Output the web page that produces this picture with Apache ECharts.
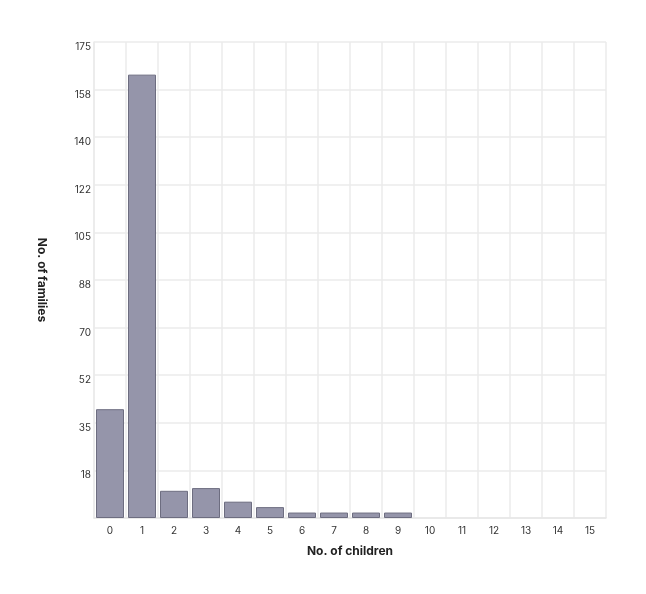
<!DOCTYPE html>
<html>
<head>
<meta charset="utf-8">
<script src="https://cdn.jsdelivr.net/npm/echarts@6/dist/echarts.min.js"></script>
<style>
  html, body { margin: 0; padding: 0; background: #fff; }
  #main { width: 646px; height: 594px; }
</style>
</head>
<body>
<div id="main"></div>
<script>
// data
var children = ['0', '1', '2', '3', '4', '5', '6', '7', '8', '9', '10', '11', '12', '13', '14', '15'];
var families = [40, 163, 10, 11, 6, 4, 2, 2, 2, 2, 0, 0, 0, 0, 0, 0];
var yTickLabels = ['', '18', '35', '52', '70', '88', '105', '122', '140', '158', '175'];

var myChart = echarts.init(document.getElementById('main'));
var option = {
    backgroundColor: '#fff',
    textStyle: { fontFamily: 'Inter' },
    grid: { left: 94, right: 40, top: 42, bottom: 76, containLabel: false },
    xAxis: {
        type: 'category',
        data: children,
        name: 'No. of children',
        nameLocation: 'middle',
        nameGap: 27,
        nameTextStyle: { fontSize: 12, fontWeight: 'bold', color: '#222' },
        axisLine: { lineStyle: { color: '#e6e6e6', width: 1.5 } },
        axisTick: { show: false },
        axisLabel: { color: '#333', fontSize: 10, margin: 8 },
        splitLine: { show: true, interval: 0, lineStyle: { color: '#ebebeb', width: 1.5 } }
    },
    yAxis: {
        type: 'value',
        min: 0,
        max: 175,
        interval: 17.5,
        name: 'No. of families',
        nameLocation: 'middle',
        nameGap: 46,
        nameRotate: -90,
        nameTextStyle: { fontSize: 12, fontWeight: 'bold', color: '#222' },
        axisLine: { show: true, lineStyle: { color: '#ebebeb', width: 1.5 } },
        axisTick: { show: false },
        axisLabel: {
            color: '#333',
            fontSize: 10,
            margin: 3,
            verticalAlign: 'top',
            formatter: function (v) {
                return yTickLabels[Math.round(v / 17.5)];
            }
        },
        splitLine: { lineStyle: { color: '#ebebeb', width: 1.5 } }
    },
    series: [
        {
            type: 'bar',
            // empty categories draw no bar at all
            data: families.map(function (v) { return v === 0 ? null : v; }),
            barCategoryGap: '12.5%',
            itemStyle: { color: '#9595aa', borderColor: '#6d6d80', borderWidth: 1 }
        }
    ]
};
myChart.setOption(option);
</script>
</body>
</html>
